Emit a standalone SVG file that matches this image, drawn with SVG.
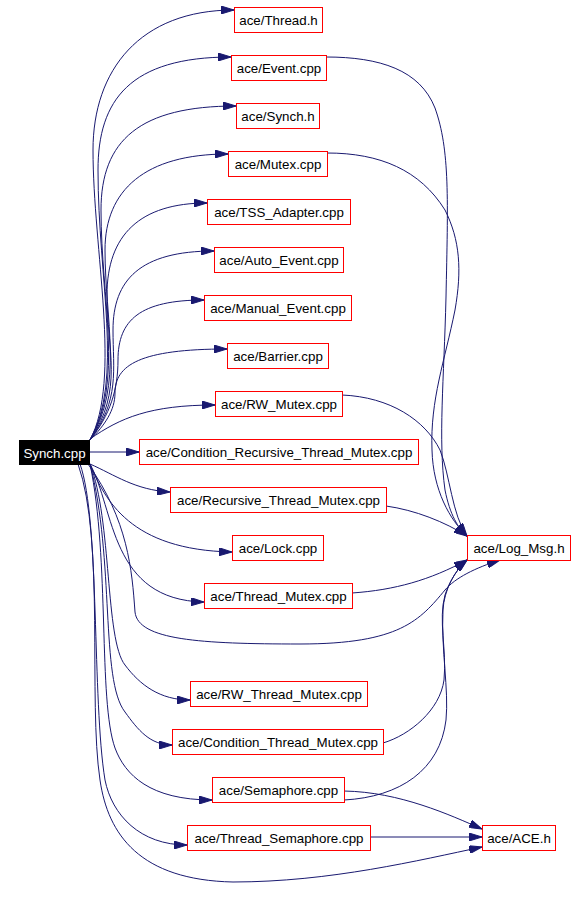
<svg xmlns="http://www.w3.org/2000/svg" width="587" height="908" viewBox="0 0 587 908">
<style>
.n rect{fill:#fff;stroke:#ff0000;stroke-width:1}
.n text,.s text{font-family:"Liberation Sans",Arial,sans-serif;font-size:13.33px;text-anchor:middle;fill:#000}
.s rect{fill:#000;stroke:#000;stroke-width:1}
.s text{fill:#fff}
#edges path{fill:none;stroke:#191970;stroke-width:1;marker-end:url(#ah)}
</style>
<defs>
<marker id="ah" viewBox="0 0 13 8" refX="13" refY="4" markerWidth="13" markerHeight="8" orient="auto" markerUnits="userSpaceOnUse">
<path d="M0,0 L13,4 L0,8 z" fill="#191970" stroke="#191970" stroke-width="1"/>
</marker>
</defs>
<rect width="587" height="908" fill="#fff"/>
<g id="edges">
<path d="M90,440 C122,380 93,250 93,150 C93,70 140,10 234,10"/>
<path d="M90,440 C124,380 98,280 98,170 C98,100 130,57 231,57"/>
<path d="M90,440 C124,382 101,300 101,210 C101,140 140,106 236,106"/>
<path d="M90,440 C124,385 105,320 105,250 C105,190 145,154 228,154"/>
<path d="M90,440 C124,390 107,350 107,295 C107,235 140,203 207,203"/>
<path d="M90,440 C120,400 113,370 113,330 C113,280 140,251 214,251"/>
<path d="M90,440 C110,415 118,390 118,360 C118,320 140,300 204,300"/>
<path d="M90,440 C105,425 115,410 115,393 C115,365 140,349 227,349"/>
<path d="M90,439 C120,418 150,405 215,405"/>
<path d="M90,452 L139,452"/>
<path d="M90,464 C115,475 135,490 170,492"/>
<path d="M90,464 C105,500 130,550 232,552"/>
<path d="M90,464 C115,510 110,600 204,602"/>
<path d="M88,464 C128,520 132,570 135,612 C138,640 200,644 300,644 C400,644 420,620 445,590 C455,578 475,568 500,560"/>
<path d="M90,464 C112,520 105,640 125,665 C140,685 160,700 190,700"/>
<path d="M90,464 C115,560 100,680 125,712 C138,730 150,745 172,745"/>
<path d="M90,464 C110,560 98,700 115,748 C125,775 150,800 212,800"/>
<path d="M80,464 C100,520 92,700 105,780 C112,815 140,845 187,845"/>
<path d="M78,464 C105,540 88,700 100,780 C108,835 140,880 233,882 C330,882 420,860 482,847"/>
<path d="M326,57 C380,57 420,70 435,108 C450,150 448,200 446,297 C444,380 438,440 445,490 C450,515 458,528 467,536"/>
<path d="M327,153 C380,153 420,170 445,210 C460,240 462,270 455,310 C445,360 430,400 432,450 C433,490 450,520 467,536"/>
<path d="M342,395 C390,397 425,420 440,450 C450,475 452,515 467,536"/>
<path d="M386,506 C415,510 445,522 467,536"/>
<path d="M352,593 C395,590 430,580 467,560"/>
<path d="M383,743 C410,735 440,710 444,680 C447,650 438,620 445,595 C450,580 458,568 467,560"/>
<path d="M344,800 C400,797 440,770 446,720 C449,690 441,650 443,610 C444,590 455,570 467,560"/>
<path d="M344,791 C400,792 450,815 482,829"/>
<path d="M370,837 L482,837"/>
</g>
<g id="synch_cpp" class="s"><rect x="19.5" y="440.5" width="70" height="24"/><text x="54.5" y="457.5">Synch.cpp</text></g>
<g id="thread_h" class="n"><rect x="234.5" y="7.5" width="88" height="25"/><text x="278.5" y="25">ace/Thread.h</text></g>
<g id="event_cpp" class="n"><rect x="231.5" y="55.5" width="95" height="25"/><text x="279" y="73">ace/Event.cpp</text></g>
<g id="synch_h" class="n"><rect x="236.5" y="103.5" width="83" height="25"/><text x="278" y="121">ace/Synch.h</text></g>
<g id="mutex_cpp" class="n"><rect x="228.5" y="151.5" width="99" height="25"/><text x="278" y="169">ace/Mutex.cpp</text></g>
<g id="tss_adapter_cpp" class="n"><rect x="207.5" y="199.5" width="143" height="25"/><text x="279" y="217">ace/TSS_Adapter.cpp</text></g>
<g id="auto_event_cpp" class="n"><rect x="214.5" y="247.5" width="129" height="25"/><text x="279" y="265">ace/Auto_Event.cpp</text></g>
<g id="manual_event_cpp" class="n"><rect x="204.5" y="295.5" width="147" height="25"/><text x="278" y="313">ace/Manual_Event.cpp</text></g>
<g id="barrier_cpp" class="n"><rect x="227.5" y="343.5" width="101" height="25"/><text x="278" y="361">ace/Barrier.cpp</text></g>
<g id="rw_mutex_cpp" class="n"><rect x="215.5" y="391.5" width="127" height="25"/><text x="279" y="409">ace/RW_Mutex.cpp</text></g>
<g id="cond_rec_thread_mutex_cpp" class="n"><rect x="139.5" y="439.5" width="279" height="25"/><text x="279" y="457">ace/Condition_Recursive_Thread_Mutex.cpp</text></g>
<g id="rec_thread_mutex_cpp" class="n"><rect x="170.5" y="487.5" width="216" height="25"/><text x="278.5" y="505">ace/Recursive_Thread_Mutex.cpp</text></g>
<g id="lock_cpp" class="n"><rect x="232.5" y="535.5" width="91" height="25"/><text x="278" y="553">ace/Lock.cpp</text></g>
<g id="log_msg_h" class="n"><rect x="467.5" y="535.5" width="103" height="25"/><text x="519" y="553">ace/Log_Msg.h</text></g>
<g id="thread_mutex_cpp" class="n"><rect x="204.5" y="583.5" width="148" height="25"/><text x="278.5" y="601">ace/Thread_Mutex.cpp</text></g>
<g id="rw_thread_mutex_cpp" class="n"><rect x="190.5" y="681.5" width="177" height="25"/><text x="279" y="699">ace/RW_Thread_Mutex.cpp</text></g>
<g id="cond_thread_mutex_cpp" class="n"><rect x="172.5" y="729.5" width="211" height="25"/><text x="278" y="747">ace/Condition_Thread_Mutex.cpp</text></g>
<g id="semaphore_cpp" class="n"><rect x="212.5" y="777.5" width="132" height="25"/><text x="278.5" y="795">ace/Semaphore.cpp</text></g>
<g id="thread_semaphore_cpp" class="n"><rect x="187.5" y="825.5" width="183" height="25"/><text x="279" y="843">ace/Thread_Semaphore.cpp</text></g>
<g id="ace_h" class="n"><rect x="482.5" y="825.5" width="73" height="25"/><text x="519" y="843">ace/ACE.h</text></g>
</svg>
